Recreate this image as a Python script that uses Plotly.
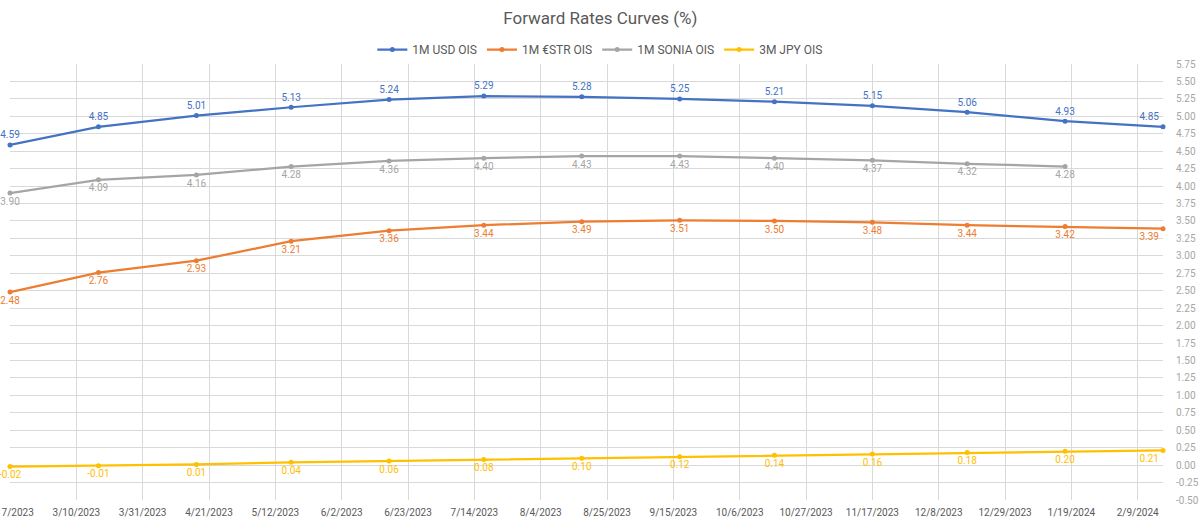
import plotly.graph_objects as go
import pandas as pd

dates = ["2023-02-17", "2023-03-17", "2023-04-17", "2023-05-17", "2023-06-17",
         "2023-07-17", "2023-08-17", "2023-09-17", "2023-10-17", "2023-11-17",
         "2023-12-17", "2024-01-17", "2024-02-17"]

usd = [4.59, 4.85, 5.01, 5.13, 5.24, 5.29, 5.28, 5.25, 5.21, 5.15, 5.06, 4.93, 4.85]
estr = [2.48, 2.76, 2.93, 3.21, 3.36, 3.44, 3.49, 3.51, 3.50, 3.48, 3.44, 3.42, 3.39]
sonia = [3.90, 4.09, 4.16, 4.28, 4.36, 4.40, 4.43, 4.43, 4.40, 4.37, 4.32, 4.28]
jpy = [-0.02, -0.01, 0.01, 0.04, 0.06, 0.08, 0.10, 0.12, 0.14, 0.16, 0.18, 0.20, 0.21]

series = [
    ("1M USD OIS", usd, "#4472C4", "top center"),
    ("1M €STR OIS", estr, "#ED7D31", "bottom center"),
    ("1M SONIA OIS", sonia, "#A5A5A5", "bottom center"),
    ("3M JPY OIS", jpy, "#FFC000", "bottom center"),
]

FONT = "Roboto"

fig = go.Figure()
for name, vals, color, pos in series:
    positions = [pos] * len(vals)
    if len(vals) == 13:
        positions[-1] = pos.split()[0] + " left"
    fig.add_trace(go.Scatter(
        x=dates[:len(vals)], y=vals, name=name, mode="lines+markers+text",
        line=dict(color=color, width=2.25), marker=dict(color=color, size=5),
        text=[f"{v:.2f}" for v in vals], textposition=positions,
        textfont=dict(color=color, size=10, family=FONT),
        cliponaxis=False,
    ))

yticks = [i * 0.25 - 0.5 for i in range(26)]
xticks = list(pd.date_range("2023-02-17", "2024-02-17", freq="21D"))

fig.update_layout(
    width=1200, height=523,
    margin=dict(l=10, r=37, t=64, b=23),
    paper_bgcolor="white", plot_bgcolor="white",
    font=dict(family=FONT, color="#595959"),
    title=dict(text="Forward Rates Curves (%)", x=0.512, xanchor="center", xref="paper",
               y=0.965, yanchor="middle",
               font=dict(size=17, color="#595959", family=FONT)),
    legend=dict(orientation="h", x=0.512, xanchor="center", y=1.0, yanchor="bottom",
                font=dict(size=12, color="#595959", family=FONT), itemwidth=30,
                traceorder="normal"),
    showlegend=True,
)
fig.update_xaxes(
    range=["2023-02-17", "2024-02-17"], tickvals=xticks,
    ticktext=[f"{d.month}/{d.day}/{d.year}" for d in xticks],
    showgrid=True, gridcolor="#D9D9D9", gridwidth=1, zeroline=False,
    showline=False, ticks="", tickfont=dict(size=10, color="#595959"),
    ticklabeloverflow="allow", ticklabelstandoff=5, automargin=False,
)
fig.update_yaxes(
    side="right", range=[-0.5, 5.75], tickvals=yticks,
    ticktext=[f"{v:.2f}" for v in yticks],
    showgrid=True, gridcolor="#D9D9D9", gridwidth=1, zeroline=False,
    ticks="", tickfont=dict(size=10, color="#A6A6A6"),
    ticklabelstandoff=12, automargin=False,
)

fig.write_html("out.html")
